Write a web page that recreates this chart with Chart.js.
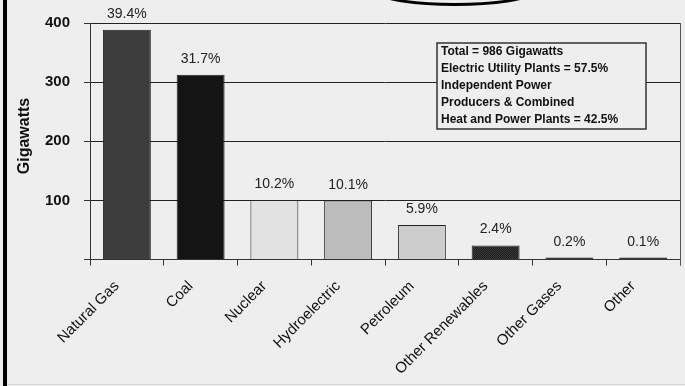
<!DOCTYPE html>
<html lang="en">
<head>
    <meta charset="UTF-8">
    <title>Generating Capacity by Fuel</title>
    <script src="https://cdn.jsdelivr.net/npm/chart.js"></script>
    <style>
        html, body { margin: 0; padding: 0; background: #eeeeee; }
        .chart-container { position: relative; width: 685px; height: 386px; }
    </style>
</head>
<body>
    <div class="chart-container">
        <canvas id="capacityChart"></canvas>
    </div>

    <script>
        // Capacity by energy source (gigawatts) and share of the total
        const categories = ['Natural Gas', 'Coal', 'Nuclear', 'Hydroelectric', 'Petroleum', 'Other Renewables', 'Other Gases', 'Other'];
        const capacityGW = [388.5, 312.6, 100.6, 99.6, 58.2, 23.7, 2.0, 1.0];
        const shareLabels = ['39.4%', '31.7%', '10.2%', '10.1%', '5.9%', '2.4%', '0.2%', '0.1%'];
        const yTickValues = [0, 100, 200, 300, 400];
        const noteLines = [
            'Total = 986 Gigawatts',
            'Electric Utility Plants = 57.5%',
            'Independent Power',
            'Producers & Combined',
            'Heat and Power Plants = 42.5%'
        ];

        // dotted fill used for the renewables bar
        function dotPattern() {
            const c = document.createElement('canvas');
            c.width = 2; c.height = 2;
            const p = c.getContext('2d');
            p.fillStyle = '#1c1c1c';
            p.fillRect(0, 0, 2, 2);
            p.fillStyle = '#3a3a3a';
            p.fillRect(0, 0, 1, 1);
            p.fillRect(1, 1, 1, 1);
            return p.createPattern(c, 'repeat');
        }

        const ctx = document.getElementById('capacityChart').getContext('2d');
        const barColors = ['#3d3d3d', '#141414', '#e2e2e2', '#bcbcbc', '#cdcdcd', dotPattern(), '#111111', '#111111'];

        const decorations = {
            id: 'decorations',
            afterDraw(chart) {
                const c = chart.ctx;
                const area = chart.chartArea;
                c.save();

                // page frame on the left and the cut-off oval at the top
                c.fillStyle = '#000';
                c.fillRect(3, 0, 4, 386);
                c.strokeStyle = '#d6d6d6';
                c.lineWidth = 1;
                c.beginPath();
                c.moveTo(7, 384.5);
                c.lineTo(685, 384.5);
                c.stroke();
                c.strokeStyle = '#000';
                c.lineWidth = 3;
                c.beginPath();
                c.ellipse(455, -7, 74, 11.5, 0, 0, Math.PI * 2);
                c.stroke();

                // right edge of the plot
                c.strokeStyle = '#555';
                c.lineWidth = 1;
                c.beginPath();
                c.moveTo(Math.round(area.right) + 0.5, area.top);
                c.lineTo(Math.round(area.right) + 0.5, area.bottom + 6);
                c.stroke();

                // percentage share above each bar
                const meta = chart.getDatasetMeta(0);
                c.fillStyle = '#222';
                c.font = '14px Arial';
                c.textAlign = 'center';
                c.textBaseline = 'alphabetic';
                meta.data.forEach((bar, i) => {
                    c.fillText(shareLabels[i], bar.x, bar.y - 12);
                });

                // note box
                const bx = 437, by = 43, bw = 209, bh = 86;
                c.fillStyle = '#eeeeee';
                c.fillRect(bx, by, bw, bh);
                c.strokeStyle = '#333';
                c.lineWidth = 1.5;
                c.strokeRect(bx, by, bw, bh);
                c.fillStyle = '#111';
                c.font = 'bold 12px Arial';
                c.textAlign = 'left';
                c.textBaseline = 'middle';
                noteLines.forEach((line, i) => {
                    c.fillText(line, 441, 52 + i * 17);
                });

                // y axis title
                c.translate(25, 136);
                c.rotate(-Math.PI / 2);
                c.textAlign = 'center';
                c.font = 'bold 16px Arial';
                c.fillText('Gigawatts', 0, 0);

                c.restore();
            }
        };

        new Chart(ctx, {
            type: 'bar',
            data: {
                labels: categories,
                datasets: [{
                    data: capacityGW,
                    backgroundColor: barColors,
                    borderColor: '#222',
                    borderWidth: 1,
                    minBarLength: 2,
                    categoryPercentage: 1,
                    barPercentage: 0.65
                }]
            },
            options: {
                responsive: true,
                maintainAspectRatio: false,
                animation: false,
                layout: { padding: { left: 0, right: 5, top: 23, bottom: 0 } },
                plugins: {
                    legend: { display: false },
                    tooltip: { enabled: false }
                },
                scales: {
                    x: {
                        grid: {
                            display: true,
                            offset: true,
                            drawOnChartArea: false,
                            tickLength: 6,
                            tickColor: '#333'
                        },
                        border: { color: '#333' },
                        ticks: {
                            autoSkip: false,
                            minRotation: 45,
                            maxRotation: 45,
                            padding: 12,
                            labelOffset: -10,
                            color: '#111',
                            font: { family: 'Arial', size: 15 }
                        },
                        afterFit(scale) { scale.height = 126.5; }
                    },
                    y: {
                        min: 0,
                        max: 400,
                        afterBuildTicks(scale) {
                            scale.ticks = yTickValues.map(v => ({ value: v }));
                        },
                        grid: {
                            color: '#222',
                            tickLength: 6,
                            tickColor: '#333'
                        },
                        border: { color: '#333' },
                        ticks: {
                            padding: 14,
                            color: '#111',
                            font: { family: 'Arial', size: 15, weight: 'bold' },
                            callback: (v) => v === 0 ? '' : v
                        },
                        afterFit(scale) { scale.width = 90; }
                    }
                }
            },
            plugins: [decorations]
        });
    </script>
</body>
</html>
